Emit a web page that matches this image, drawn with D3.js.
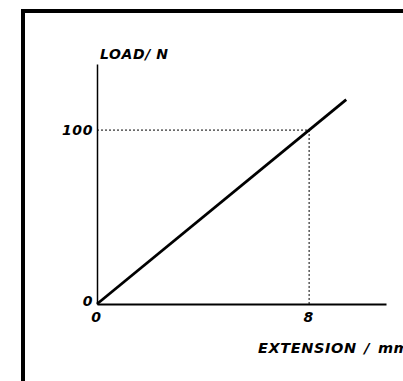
<!DOCTYPE html>
<html>
<head>
<meta charset="utf-8">
<script src="https://cdn.jsdelivr.net/npm/d3@7"></script>
<style>
html, body { margin: 0; background: #fff; overflow: hidden; width: 403px; height: 381px; }
svg { display: block; }
svg text { font-family: "Comic Sans MS", "DejaVu Sans", sans-serif; font-weight: bold; font-style: italic; fill: #000; letter-spacing: 0.6px; }
</style>
</head>
<body>
<svg></svg>
<script>
// extension (mm) vs load (N)
const extension = [0, 9.4]
const load = [0, 117.5]
const xTicks = [0, 8]
const yTicks = [0, 100]
const markX = 8
const markY = 100

const svg = d3.select("svg")
    .attr("width", 403)
    .attr("height", 381)

// frame: only left and top edges show, the rest runs off the page
svg.append("path")
    .attr("d", "M23,400V11H410")
    .attr("fill", "none")
    .attr("stroke", "#000")
    .attr("stroke-width", 4)
    .attr("stroke-linecap", "square")

const xScale = d3.scaleLinear()
    .domain([0, 10.9])
    .range([97, 386])

const yScale = d3.scaleLinear()
    .domain([0, 138])
    .range([304, 64])

// dotted guides
svg.append("path")
    .attr("d", `M${xScale(0)},${yScale(markY)}H${xScale(markX)}V${yScale(0)}`)
    .attr("fill", "none")
    .attr("stroke", "#000")
    .attr("stroke-width", 1)
    .attr("stroke-dasharray", "2,2")

const xAxis = svg.append("g")
    .attr("transform", `translate(0, ${yScale(0)})`)
    .call(d3.axisBottom(xScale).tickValues(xTicks).tickSize(0).tickSizeOuter(0).tickPadding(8))

const yAxis = svg.append("g")
    .attr("transform", `translate(${xScale(0)}, 0)`)
    .call(d3.axisLeft(yScale).tickValues(yTicks).tickSize(0).tickSizeOuter(0).tickPadding(4))

xAxis.select(".domain").attr("stroke-width", 2)
yAxis.select(".domain").attr("stroke-width", 1.5)

xAxis.selectAll("text")
    .attr("font-size", 14)
    .attr("font-family", null)
    .attr("dx", -1)

yAxis.selectAll("text")
    .attr("font-size", 14)
    .attr("font-family", null)
    .attr("dy", (d) => d == 0 ? "0.1em" : "0.32em")

const line = d3.line()
    .x((d, i) => xScale(d))
    .y((d, i) => yScale(load[i]))

svg.append("path")
    .datum(extension)
    .attr("d", line)
    .attr("fill", "none")
    .attr("stroke", "#000")
    .attr("stroke-width", 2.8)

svg.append("text")
    .attr("x", 100)
    .attr("y", 59)
    .attr("font-size", 14)
    .text("LOAD/ N")

svg.append("text")
    .attr("x", 258)
    .attr("y", 353)
    .attr("font-size", 14.5)
    .attr("word-spacing", 2)
    .text("EXTENSION / mm")

// keep the right strip clear below the top edge
svg.append("rect")
    .attr("x", 396)
    .attr("y", 14)
    .attr("width", 7)
    .attr("height", 320)
    .attr("fill", "#fff")
</script>
</body>
</html>
